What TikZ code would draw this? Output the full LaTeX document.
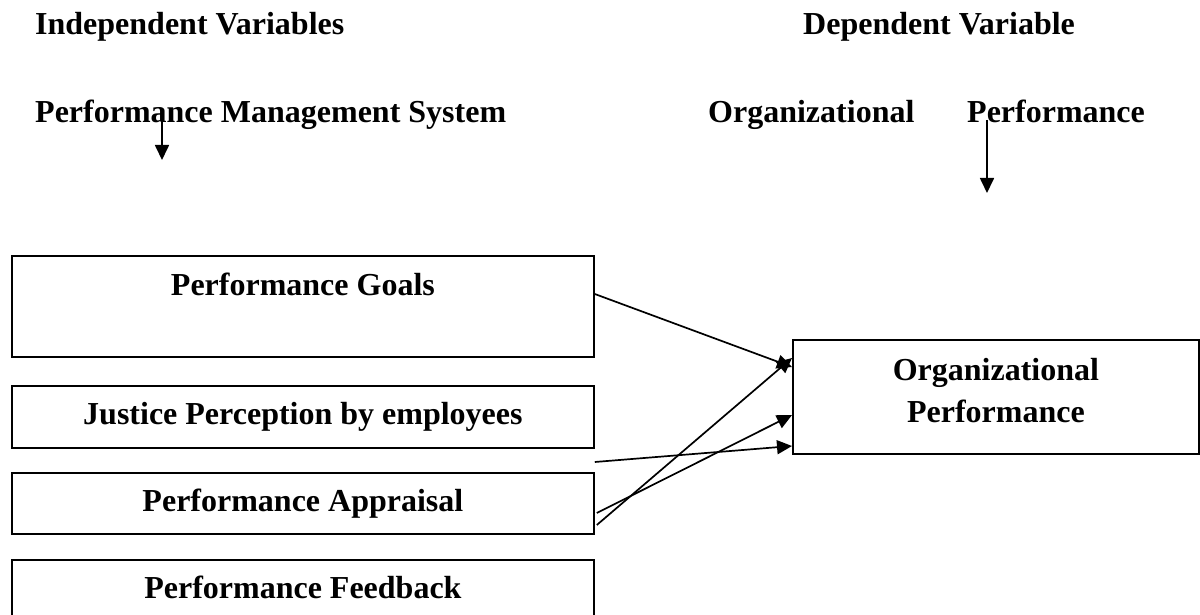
\documentclass[tikz,border=0pt]{standalone}
\usepackage{fontspec}
\setmainfont{Liberation Serif}
\usetikzlibrary{arrows.meta,calc}
\begin{document}
\begin{tikzpicture}[x=1pt,y=-1pt,
  every node/.style={font=\bfseries\fontsize{32}{42}\selectfont, inner sep=0pt},
  varbox/.style={draw, line width=1.8pt, anchor=north west},
  heading/.style={anchor=base west},
  link/.style={line width=1.7pt, -{Triangle[length=15pt,width=14pt]}}]
\useasboundingbox (0,0) rectangle (1200,615);

% column headings
\node[heading] (indep) at (35,35) {Independent Variables};
\node[heading] (dep) at (803,35) {Dependent Variable};
\node[heading] (pms) at (35,123) {Performance Management System};
\node[heading] (orgword) at (708,123) {Organizational};
\node[heading] (perfword) at (967,123) {Performance};

% downward pointers under the headings
\coordinate (pmsfrom) at (162,117);
\coordinate (pmsto) at (162,160);
\coordinate (opfrom) at (987,120);
\coordinate (opto) at (987,193);
\draw[link] (pmsfrom) -- (pmsto);
\draw[link] (opfrom) -- (opto);

% independent variable boxes
\node[varbox, minimum width=582pt, minimum height=101pt] (b1) at (11,255) {};
\node[anchor=base] (t1) at ($(b1.north)+(0,40)$) {Performance Goals};
\node[varbox, minimum width=582pt, minimum height=62pt] (b2) at (11,385) {Justice Perception by employees};
\node[varbox, minimum width=582pt, minimum height=61pt] (b3) at (11,472) {Performance Appraisal};
\node[varbox, minimum width=582pt, minimum height=70pt] (b4) at (11,559) {};
\node[anchor=base] (t4) at ($(b4.north)+(0,39)$) {Performance Feedback};

% dependent variable box
\node[varbox, minimum width=406pt, minimum height=114pt] (out) at (792,339) {};
\node[anchor=base] (o1) at ($(out.north)+(0,41)$) {Organizational};
\node[anchor=base] (o2) at ($(out.north)+(0,83)$) {Performance};

% links into the dependent variable
\draw[link] ($(b1.north east)+(0,39)$) -- ($(out.north west)+(0,28)$);
\draw[link] ($(b3.north east)+(2,53)$) -- ($(out.north west)+(0,19)$);
\draw[link] ($(b3.north east)+(2,41)$) -- ($(out.north west)+(0,76)$);
\draw[link] ($(b3.north east)+(0,-10)$) -- ($(out.north west)+(0,107)$);
\end{tikzpicture}
\end{document}
